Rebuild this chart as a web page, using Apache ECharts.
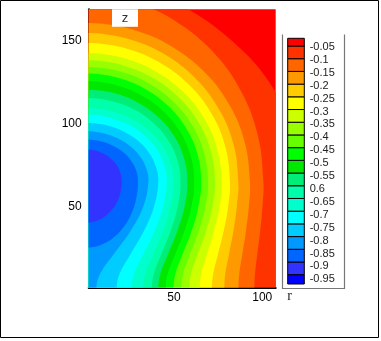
<!DOCTYPE html>
<html><head><meta charset="utf-8">
<script src="https://cdn.jsdelivr.net/npm/echarts@6/dist/echarts.min.js"></script>
<style>html,body{margin:0;padding:0;background:#fff}#c{width:381px;height:341px}</style>
</head><body><div id="c"></div>
<script>
// ---- axis ticks ----
const xMajorTicks = [50, 100];
const xMinorTicks = [10, 20, 30, 40, 60, 70, 80, 90];
const yMajorTicks = [50, 100, 150];
const yMinorTicks = [10, 20, 30, 40, 60, 70, 80, 90, 110, 120, 130, 140, 160];

// ---- contour levels and legend ----
const levels = [-0.95, -0.9, -0.85, -0.8, -0.75, -0.7, -0.65, -0.6, -0.55, -0.5, -0.45, -0.4, -0.35, -0.3, -0.25, -0.2, -0.15, -0.1, -0.05];
const levelLabels = ['-0.95', '-0.9', '-0.85', '-0.8', '-0.75', '-0.7', '-0.65', '0.6', '-0.55', '-0.5', '-0.45', '-0.4', '-0.35', '-0.3', '-0.25', '-0.2', '-0.15', '-0.1', '-0.05'];
const bandColors = ['#0000FF', '#3333FF', '#0066FF', '#0099FF', '#00CCFF', '#00FFFF', '#00FFCC', '#00FFAA', '#00EE77', '#00E800', '#00FF00', '#66FF00', '#99FF00', '#CCFF00', '#FFFF00', '#FFCC00', '#FF9900', '#FF6600', '#FF3300', '#FF0000'];
const valueMin = -0.9866, valueMax = -0.0197;

// ---- contour lines [r, z], top end -> bottom end ----
const c005 = [[0,184],[16.4,182.8],[36.5,178.2],[59,168.1],[83.4,149.1],[103.5,125.5],[115.5,98],[118,65],[117,50],[115,35],[113,20],[112,1]];
const c010 = [[0,176.9],[14,175.8],[31.1,171.4],[50.3,161.9],[71.1,144.1],[87.1,121],[97.2,94],[100.6,65],[100.1,50],[98.8,35],[97,20],[95.9,10],[95.5,1]];
const c015 = [[0,160.4],[12.9,159.4],[28.7,155.7],[46.5,147.6],[65.8,132.4],[80.5,112.7],[89.8,89.7],[93,65],[92.4,50],[90.7,35],[88.5,20],[87,10],[86.5,1]];
const c020 = [[0,154.4],[12,153.5],[26.7,150],[43.2,142.4],[61.1,128.2],[74.8,109.7],[83.5,88.2],[86.4,65],[85.6,50],[83.6,35],[80.9,20],[79.1,10],[78.5,1]];
const c025 = [[0,148.4],[11.4,147.6],[25.2,144.3],[40.9,137.2],[57.8,124],[70.8,106.7],[78.9,86.6],[81.7,65],[80.7,50],[78.1,35],[74.6,20],[72.3,10],[71.5,1]];
const c030 = [[0,142.4],[10.7,141.6],[23.8,138.6],[38.5,132],[54.4,119.7],[66.7,103.7],[74.4,85],[77,65],[75.8,50],[72.6,35],[68.3,20],[65.5,10],[64.5,1]];
const c035 = [[0,138],[10.2,137.3],[22.6,134.4],[36.6,128.2],[51.8,116.6],[63.4,101.5],[70.7,83.9],[73.2,65],[71.7,50],[68.1,35],[62.9,20],[59.7,10],[58.5,1]];
const c040 = [[0,134],[9.6,133.3],[21.4,130.6],[34.7,124.8],[49,113.8],[60,99.5],[66.9,82.9],[69.3,65],[67.8,50],[63.9,35],[58.6,20],[55.2,10],[54,1]];
const c045 = [[0,130],[9.1,129.4],[20.2,126.8],[32.7,121.3],[46.2,111],[56.6,97.5],[63.2,81.8],[65.4,65],[63.8,50],[59.9,35],[54.3,20],[50.9,10],[49.6,1]];
const c050 = [[0,125.5],[8.5,124.9],[19,122.5],[30.8,117.4],[43.5,107.8],[53.3,95.3],[59.4,80.7],[61.5,65],[59.9,50],[55.8,35],[50.2,20],[46.6,10],[45.3,1]];
const c055 = [[0,120.3],[8,119.7],[17.8,117.6],[28.8,112.9],[40.7,104.1],[49.9,92.7],[55.6,79.3],[57.6,65],[56,50],[51.8,35],[46.1,20],[42.4,10],[41.1,1]];
const c060 = [[0,115.3],[7.5,114.8],[16.6,112.8],[26.9,108.6],[38,100.6],[46.5,90.2],[51.9,78],[53.7,65],[52.1,50],[48,35],[42.3,20],[38.7,10],[37.4,1]];
const c065 = [[0,109.3],[6.9,108.9],[15.4,107.1],[24.9,103.4],[35.2,96.3],[43.1,87.2],[48.1,76.5],[49.8,65],[48.1,50],[43.8,35],[37.8,20],[34,10],[32.6,1]];
const c070 = [[0,105.3],[6.4,104.9],[14.2,103.3],[23,99.9],[32.5,93.5],[39.8,85.2],[44.3,75.4],[45.9,65],[43.9,50],[38.9,35],[32,20],[27.6,10],[26,1]];
const c075 = [[0,100.3],[5.7,99.9],[12.7,98.6],[20.6,95.6],[29.1,90],[35.6,82.7],[39.7,74.1],[41.1,65],[38.7,50],[32.8,35],[24.6,20],[19.4,10],[17.5,1]];
const c080 = [[0,95.3],[4.9,95],[11,93.8],[17.8,91.2],[25.1,86.4],[30.7,80.2],[34.3,72.8],[35.5,65],[32.6,50],[25.2,35],[14.9,20],[8.4,10],[6,1]];
const c085 = [[0,90.3],[4.1,90],[9.1,89.1],[14.8,86.9],[20.9,82.9],[25.6,77.7],[28.6,71.6],[29.6,65],[28.6,54.7],[25.6,45.1],[20.9,36.9],[14.8,30.5],[9.1,27.2],[4.1,25.6],[0,25.2]];
const c090 = [[0,84.3],[2.8,84.1],[6.3,83.4],[10.2,81.7],[14.4,78.6],[17.7,74.7],[19.7,70],[20.4,65],[19.7,58.6],[17.7,52.6],[14.4,47.5],[10.2,43.5],[6.3,41.4],[2.8,40.4],[0,40.2]];
const contourLines = [null, c090, c085, c080, c075, c070, c065, c060, c055, c050, c045, c040, c035, c030, c025, c020, c015, c010, c005];

// ---- build filled regions (painter's order: outside first) ----
const fills = [{pts: [[-10,-10],[130,-10],[130,200],[-10,200]], color: bandColors[19], smooth: 0}];
for (let k = levels.length - 1; k >= 1; k--) {
  const line = contourLines[k];
  const pts = line.slice();
  const first = line[0], last = line[line.length - 1];
  if (last[1] <= 2) { pts.push([last[0], -20], [-10, -20]); } else { pts.push([-10, last[1]]); }
  pts.unshift([-10, first[1]]);
  fills.push({pts: pts, color: bandColors[k], smooth: 0.4});
}

const chart = echarts.init(document.getElementById('c'), null, {renderer: 'canvas'});
const axisFont = {fontFamily: '"Liberation Sans", Arial, sans-serif', fontSize: 12, color: '#000'};
const lineBlack = {color: '#000', width: 2};

function labelFor(v) {
  for (let i = 0; i < levels.length; i++) if (Math.abs(levels[i] - v) < 1e-6) return levelLabels[i];
  return '';
}

const option = {
  animation: false,
  grid: [
    {left: 88.7, top: 9.3, width: 187, height: 278.2},
    {left: 287.7, top: 38.3, width: 16.6, height: 245.7}
  ],
  xAxis: [
    {gridIndex: 0, type: 'value', min: 1.7, max: 107.6, position: 'bottom',
     axisLine: {show: true, onZero: false, lineStyle: lineBlack},
     axisTick: {show: true, inside: true, length: 7, customValues: xMajorTicks, lineStyle: {color: '#000', width: 2}},
     axisLabel: Object.assign({show: true, customValues: xMajorTicks, margin: 4}, axisFont),
     splitLine: {show: false}},
    {gridIndex: 0, type: 'value', min: 1.7, max: 107.6, position: 'bottom', offset: 0,
     axisLine: {show: false},
     axisTick: {show: true, inside: true, length: 4, customValues: xMinorTicks, lineStyle: {color: '#000', width: 1}},
     axisLabel: {show: false}, splitLine: {show: false}},
    {gridIndex: 1, type: 'value', min: 0, max: 1, show: false}
  ],
  yAxis: [
    {gridIndex: 0, type: 'value', min: 1.3, max: 168.6, position: 'left',
     axisLine: {show: true, onZero: false, lineStyle: lineBlack},
     axisTick: {show: true, inside: true, length: 8, customValues: yMajorTicks, lineStyle: {color: '#000', width: 2}},
     axisLabel: Object.assign({show: true, customValues: yMajorTicks, margin: 7}, axisFont),
     splitLine: {show: false}},
    {gridIndex: 0, type: 'value', min: 1.3, max: 168.6, position: 'left', offset: 0,
     axisLine: {show: false},
     axisTick: {show: true, inside: true, length: 4, customValues: yMinorTicks, lineStyle: {color: '#000', width: 1}},
     axisLabel: {show: false}, splitLine: {show: false}},
    {gridIndex: 1, type: 'value', min: valueMin, max: valueMax, show: false},
    {gridIndex: 1, type: 'value', min: -0.9682, max: -0.0163, position: 'right',
     axisLine: {show: false}, axisTick: {show: false}, splitLine: {show: false},
     axisLabel: {show: true, customValues: levels, formatter: labelFor, margin: 5.4,
                 fontFamily: '"Liberation Sans", Arial, sans-serif', fontSize: 11, color: '#222'}}
  ],
  series: [
    {
      type: 'custom', coordinateSystem: 'cartesian2d', xAxisIndex: 0, yAxisIndex: 0, silent: true,
      data: fills.map(() => [50, 80]),
      renderItem: function (params, api) {
        const f = fills[params.dataIndex];
        const cs = params.coordSys;
        return {
          type: 'polygon', z2: params.dataIndex,
          shape: {points: f.pts.map(p => api.coord(p)), smooth: f.smooth},
          style: {fill: f.color, stroke: null},
          clipPath: {type: 'rect', shape: {x: cs.x, y: cs.y, width: cs.width, height: cs.height}}
        };
      }
    },
    {
      type: 'custom', coordinateSystem: 'cartesian2d', xAxisIndex: 2, yAxisIndex: 2, silent: true,
      data: bandColors.map(() => [0.5, -0.5]),
      renderItem: function (params, api) {
        const i = params.dataIndex;
        const lo = i === 0 ? valueMin : levels[i - 1];
        const hi = i === bandColors.length - 1 ? valueMax : levels[i];
        const p1 = api.coord([0, hi]);
        const p2 = api.coord([1, lo]);
        return {
          type: 'rect',
          shape: {x: p1[0], y: p1[1], width: p2[0] - p1[0], height: p2[1] - p1[1]},
          style: {fill: bandColors[i], stroke: '#000', lineWidth: 1}
        };
      }
    }
  ],
  graphic: [
    {type: 'rect', z: 100, shape: {x: 0.5, y: 0.5, width: 378, height: 337}, style: {fill: 'none', stroke: '#000', lineWidth: 1}},
    {type: 'polyline', z: 100, shape: {points: [[282.5, 34.5], [282.5, 288.5], [344.5, 288.5], [344.5, 34.5]]}, style: {fill: 'none', stroke: '#777', lineWidth: 1.2}},
    {type: 'rect', z: 100, shape: {x: 112, y: 9.3, width: 26, height: 17.5}, style: {fill: '#fff'}},
    {type: 'text', z: 101, x: 125, y: 18, style: {text: 'z', font: '13px "Liberation Sans", Arial, sans-serif', fill: '#333', textAlign: 'center', textVerticalAlign: 'middle', align: 'center', verticalAlign: 'middle'}},
    {type: 'text', z: 101, x: 289.5, y: 296, style: {text: 'r', font: '14px "Liberation Serif", "Times New Roman", serif', fill: '#222', textAlign: 'center', textVerticalAlign: 'middle', align: 'center', verticalAlign: 'middle'}}
  ]
};
chart.setOption(option);
</script></body></html>
